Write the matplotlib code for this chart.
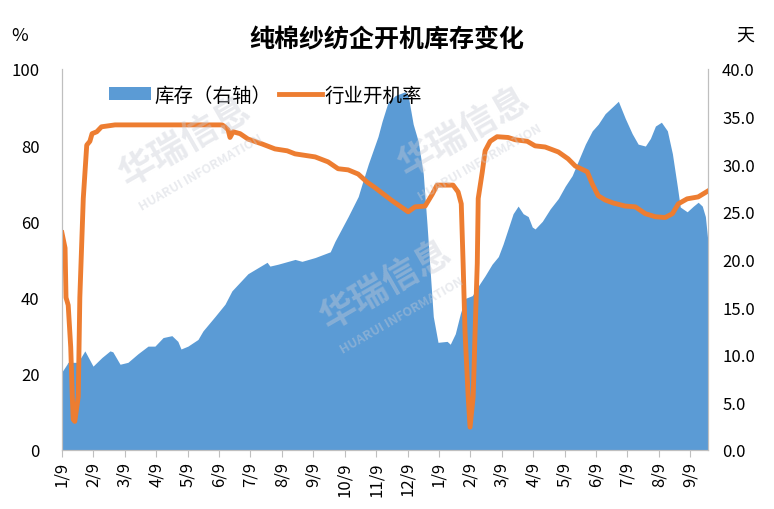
import numpy as np
import matplotlib
matplotlib.use("Agg")
import matplotlib.pyplot as plt
from matplotlib.patches import Patch
from matplotlib.lines import Line2D

plt.rcParams['font.family'] = ['Noto Sans CJK SC', 'DejaVu Sans']

# x positions in months from the first tick (1/9)
month_labels = ['1/9', '2/9', '3/9', '4/9', '5/9', '6/9', '7/9', '8/9', '9/9', '10/9', '11/9',
                '12/9', '1/9', '2/9', '3/9', '4/9', '5/9', '6/9', '7/9', '8/9', '9/9']

# 行业开机率 (%), left axis
rate_x = [0.00, 0.10, 0.13, 0.20, 0.28, 0.33, 0.36, 0.41, 0.52, 0.57, 0.68, 0.79, 0.89, 0.96,
          1.11, 1.26, 1.69, 5.10, 5.19, 5.29, 5.35, 5.45, 5.67, 5.92, 6.37, 6.78, 7.17, 7.42,
          8.06, 8.47, 8.79, 9.11, 9.43, 9.71, 9.97, 10.51, 11.02, 11.24, 11.56, 11.78, 11.94,
          12.45, 12.61, 12.71, 12.77, 12.83, 12.93, 12.99, 13.09, 13.15, 13.22, 13.25, 13.38,
          13.47, 13.63, 13.85, 14.20, 14.43, 14.81, 15.06, 15.38, 15.80, 16.11, 16.34, 16.72,
          16.88, 17.07, 17.29, 17.55, 17.93, 18.25, 18.57, 18.89, 19.20, 19.43, 19.62, 19.90,
          20.25, 20.57]
rate = [57, 53, 40, 38, 27, 14, 8, 7.5, 14, 40, 66, 80, 81, 83,
        83.5, 84.8, 85.3, 85.3, 84.8, 84, 82, 83.5, 83, 81.6, 80.3, 79, 78.5, 77.7,
        76.9, 75.6, 73.8, 73.5, 72.4, 70.3, 68.8, 65.4, 62.5, 63.8, 64, 67, 69.5,
        69.5, 67.7, 64.6, 48.8, 31, 14, 6, 14, 31, 49, 66, 73,
        78.5, 81, 82.2, 82, 81.4, 81, 79.8, 79.5, 78.2, 76.4, 74.5, 73,
        69.8, 66.7, 65.6, 64.8, 64, 63.8, 62, 61.2, 61, 62, 64.6, 65.9,
        66.4, 68]

# 库存 (天), right axis
stock_x = [0.00, 0.16, 0.19, 0.51, 0.73, 0.99, 1.27, 1.53, 1.62, 1.85, 2.10, 2.42, 2.74, 2.96,
           3.22, 3.50, 3.69, 3.79, 4.01, 4.33, 4.49, 4.87, 5.19, 5.41, 5.92, 6.53, 6.62, 6.88,
           7.42, 7.64, 8.06, 8.54, 8.69, 9.11, 9.43, 9.55, 9.75, 10.06, 10.19, 10.38, 10.61,
           10.92, 11.02, 11.18, 11.34, 11.50, 11.62, 11.72, 11.82, 11.97, 12.26, 12.36, 12.52,
           12.68, 12.83, 13.06, 13.25, 13.47, 13.69, 13.89, 14.04, 14.20, 14.36, 14.52, 14.68,
           14.84, 14.97, 15.06, 15.29, 15.54, 15.80, 16.02, 16.24, 16.43, 16.66, 16.88, 17.07,
           17.29, 17.55, 17.71, 17.93, 18.15, 18.34, 18.57, 18.73, 18.89, 19.08, 19.27, 19.43,
           19.59, 19.68, 19.90, 20.10, 20.25, 20.38, 20.48, 20.57]
stock = [8.2, 9.0, 9.2, 9.2, 10.4, 8.8, 9.7, 10.4, 10.3, 9.0, 9.2, 10.1, 10.9, 10.9,
         11.8, 12.0, 11.4, 10.6, 10.9, 11.6, 12.5, 14.0, 15.3, 16.7, 18.5, 19.7, 19.3, 19.5,
         20.0, 19.8, 20.2, 20.8, 21.9, 24.5, 26.6, 27.9, 30.0, 32.9, 34.5, 36.5, 37.2,
         37.6, 37.2, 34.2, 32.4, 29.0, 23.7, 18.8, 14.0, 11.3, 11.4, 11.1, 12.2,
         14.3, 15.9, 16.2, 17.2, 18.3, 19.5, 20.3, 21.6, 23.2, 24.8, 25.6, 24.8,
         24.5, 23.4, 23.2, 24.0, 25.3, 26.4, 27.7, 28.8, 30.3, 32.1, 33.5, 34.2,
         35.3, 36.1, 36.6, 34.8, 33.2, 32.1, 31.9, 32.7, 34.0, 34.4, 33.5, 31.1,
         27.6, 25.5, 25.0, 25.6, 26.0, 25.6, 24.5, 21.6]

blue = '#5B9BD5'
orange = '#ED7D31'
grey = '#BFBFBF'

fig = plt.figure(figsize=(7.74, 5.10), dpi=100)
ax1 = fig.add_axes([0.080, 0.1157, 0.835, 0.7473])
ax2 = ax1.twinx()

ax2.fill_between(stock_x, stock, 0, color=blue, linewidth=0)
ax1.plot(rate_x, rate, color=orange, linewidth=3.5, solid_joinstyle='round')

ax1.set_zorder(ax2.get_zorder() + 1)
ax1.patch.set_visible(False)

ax1.set_xlim(0, 20.57)
ax1.set_ylim(0, 100)
ax2.set_ylim(0, 40)
ax1.set_yticks(np.arange(0, 101, 20))
ax2.set_yticks(np.arange(0, 41, 5))
ax2.set_yticklabels(['%.1f' % v for v in np.arange(0, 41, 5)])
ax1.set_xticks(np.arange(len(month_labels)))
ax1.set_xticklabels(month_labels, rotation=90)

for ax in (ax1, ax2):
    for s in ax.spines.values():
        s.set_color(grey)
    ax.spines['top'].set_visible(False)
ax1.tick_params(axis='y', length=0, labelsize=12, pad=16)
ax2.tick_params(axis='y', length=0, labelsize=12, pad=10)
ax1.tick_params(axis='x', length=5, color=grey, labelsize=12, pad=3)

# watermarks
wm = dict(color='#C8CCD6', alpha=0.4, rotation=30, ha='center', va='center',
          fontweight='bold', zorder=5)
fig.text(0.24, 0.72, '华瑞信息', fontsize=26, **wm)
fig.text(0.26, 0.66, 'HUARUI INFORMATION', fontsize=9, **wm)
fig.text(0.60, 0.74, '华瑞信息', fontsize=26, **wm)
fig.text(0.62, 0.68, 'HUARUI INFORMATION', fontsize=9, **wm)
fig.text(0.50, 0.44, '华瑞信息', fontsize=26, **wm)
fig.text(0.52, 0.38, 'HUARUI INFORMATION', fontsize=9, **wm)

handles = [Patch(facecolor=blue, edgecolor='none'),
           Line2D([0], [0], color=orange, linewidth=3.5)]
ax1.legend(handles, ['库存（右轴）', '行业开机率'], loc='upper left',
           bbox_to_anchor=(0.045, 1.005), ncol=2, frameon=False, fontsize=14,
           handlelength=2.2, columnspacing=0.4, handletextpad=0.15)

fig.text(0.5, 0.92, '纯棉纱纺企开机库存变化', ha='center', va='center',
         fontsize=18, fontweight='bold')
fig.text(0.026, 0.93, '%', ha='center', va='center', fontsize=13)
fig.text(0.963, 0.93, '天', ha='center', va='center', fontsize=13)

fig.savefig('out.png', dpi=100)
